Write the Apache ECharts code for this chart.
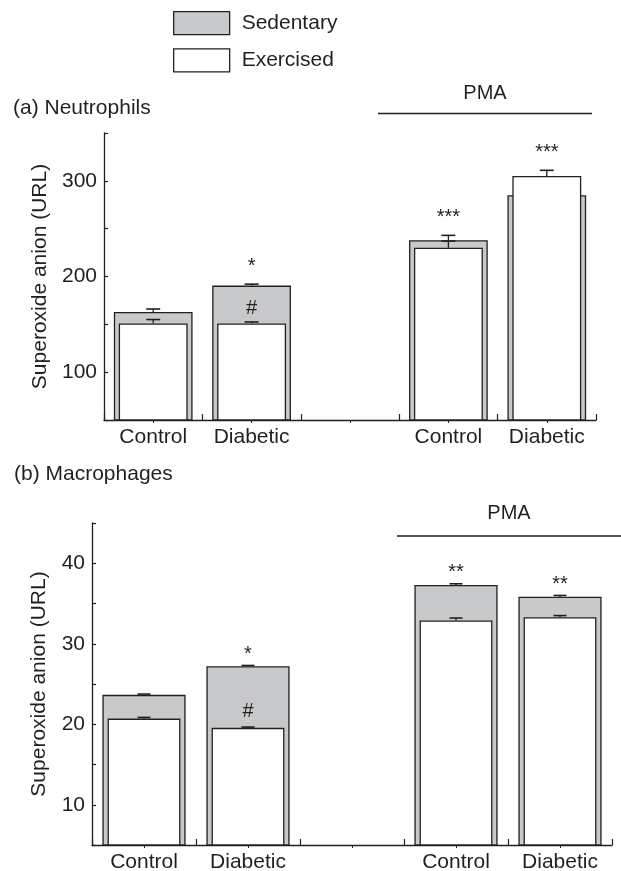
<!DOCTYPE html>
<html><head><meta charset="utf-8">
<script src="https://cdn.jsdelivr.net/npm/echarts@6/dist/echarts.min.js"></script>
<style>html,body{margin:0;padding:0;background:#fff}#c{width:621px;height:871px}</style>
</head><body><div id="c"></div><script>
// ---- data ----
const categories = ['Control', 'Diabetic', '', 'Control', 'Diabetic'];
const seriesNames = ['Sedentary', 'Exercised'];

const neutroSedentary    = [163, 190.5, null, 238, 285];
const neutroSedentaryErr = [3, 1.5, null, 5, 3];
const neutroExercised    = [151, 151, null, 230, 305];
const neutroExercisedErr = [4, 1.5, null, 7, 6];
const neutroStars = ['', '*', '', '***', '***'];
const neutroHash  = ['', '#', '', '', ''];
const neutroAxis  = [50, 350, 50, 100]; // min, max, tick interval, label step

const macroSedentary    = [23.65, 27.2, null, 37.3, 35.85];
const macroSedentaryErr = [0.1, 0.1, null, 0.15, 0.15];
const macroExercised    = [20.7, 19.55, null, 32.9, 33.3];
const macroExercisedErr = [0.15, 0.1, null, 0.3, 0.2];
const macroStars = ['', '*', '', '**', '**'];
const macroHash  = ['', '#', '', '', ''];
const macroAxis  = [5, 45, 5, 10];

const panelTitles = ['(a) Neutrophils', '(b) Macrophages'];
const yName = 'Superoxide anion (URL)';
const groupLabel = 'PMA';

// ---- style ----
const ink = '#231f20';
const grey = '#c8c9cb';
const FONT = 'Liberation Sans, Arial, Helvetica, sans-serif';
const FS = 21;

function tri(vals, errs) {
  const out = [];
  vals.forEach((v, i) => { if (v != null) out.push([i, v, errs[i]]); });
  return out;
}
function annData(texts, anchors) {
  const out = [];
  texts.forEach((t, i) => { if (t) out.push([i, anchors[i]]); });
  return out;
}
function errRender(halfCap) {
  return function (params, api) {
    const x = api.value(0), v = api.value(1), e = api.value(2);
    const p0 = api.coord([x, v]);
    const p1 = api.coord([x, v + e]);
    return {
      type: 'group',
      children: [
        { type: 'line', shape: { x1: p0[0], y1: p0[1], x2: p1[0], y2: p1[1] }, style: { stroke: ink, lineWidth: 1.3 } },
        { type: 'line', shape: { x1: p1[0] - halfCap, y1: p1[1], x2: p1[0] + halfCap, y2: p1[1] }, style: { stroke: ink, lineWidth: 1.6 } }
      ]
    };
  };
}
function textRender(texts, dy, size) {
  return function (params, api) {
    const i = api.value(0);
    const p = api.coord([i, api.value(1)]);
    return {
      type: 'text',
      style: { x: p[0], y: p[1] + dy, text: texts[i], fill: ink, font: size + 'px ' + FONT, align: 'center', verticalAlign: 'middle' }
    };
  };
}

function panel(gi, sed, sedErr, ex, exErr, stars, hash, axisDef, capHalf, starDy, hashDy) {
  const xa = gi * 2, xb = gi * 2 + 1;
  const top = sed.map((v, i) => v == null ? null : Math.max(v + (sedErr[i] || 0), ex[i] + (exErr[i] || 0)));
  return {
    xAxis: [
      {
        type: 'category', gridIndex: gi, data: categories, position: 'bottom',
        axisLine: { show: true, lineStyle: { color: ink, width: 1.3 } },
        axisTick: { show: true, inside: true, length: 6, alignWithLabel: false, lineStyle: { color: ink, width: 1.2 } },
        axisLabel: { show: true, color: ink, fontSize: FS, fontFamily: FONT, margin: 7, interval: 0 },
        splitLine: { show: false }
      },
      {
        type: 'category', gridIndex: gi, data: categories, position: 'bottom',
        axisLine: { show: false },
        axisTick: { show: true, inside: false, length: 3, alignWithLabel: true, interval: 0, lineStyle: { color: ink, width: 1 } },
        axisLabel: { show: false },
        splitLine: { show: false }
      }
    ],
    yAxis: {
      type: 'value', gridIndex: gi, min: axisDef[0], max: axisDef[1], interval: axisDef[2],
      name: yName, nameLocation: 'middle', nameRotate: 90, nameGap: gi === 0 ? 50 : 42,
      nameTextStyle: { color: ink, fontSize: FS, fontFamily: FONT },
      axisLine: { show: true, lineStyle: { color: ink, width: 1.3 } },
      axisTick: { show: true, inside: true, length: 4, lineStyle: { color: ink, width: 1.2 } },
      axisLabel: {
        color: ink, fontSize: FS, fontFamily: FONT, margin: 7,
        formatter: v => (Math.abs(v % axisDef[3]) < 1e-9 ? String(v) : '')
      },
      splitLine: { show: false }
    },
    series: [
      {
        name: seriesNames[0], type: 'bar', xAxisIndex: xa, yAxisIndex: gi, data: sed, barWidth: '80%', z: 2,
        itemStyle: { color: grey, borderColor: ink, borderWidth: 1.3 }, emphasis: { disabled: true }
      },
      {
        type: 'custom', xAxisIndex: xa, yAxisIndex: gi, data: tri(sed, sedErr), renderItem: errRender(capHalf), z: 3, silent: true
      },
      {
        name: seriesNames[1], type: 'bar', xAxisIndex: xb, yAxisIndex: gi, data: ex, barWidth: '70%', z: 4,
        itemStyle: { color: '#ffffff', borderColor: ink, borderWidth: 1.3 }, emphasis: { disabled: true }
      },
      {
        type: 'custom', xAxisIndex: xb, yAxisIndex: gi, data: tri(ex, exErr), renderItem: errRender(capHalf), z: 5, silent: true
      },
      {
        type: 'custom', xAxisIndex: xa, yAxisIndex: gi, data: annData(stars, top), renderItem: textRender(stars, starDy, 20), z: 6, silent: true
      },
      {
        type: 'custom', xAxisIndex: xa, yAxisIndex: gi, data: annData(hash, ex), renderItem: textRender(hash, hashDy, 20), z: 6, silent: true
      }
    ]
  };
}

const pA = panel(0, neutroSedentary, neutroSedentaryErr, neutroExercised, neutroExercisedErr, neutroStars, neutroHash, neutroAxis, 7, -18, -15);
const pB = panel(1, macroSedentary, macroSedentaryErr, macroExercised, macroExercisedErr, macroStars, macroHash, macroAxis, 6.5, -11, -16);

const chart = echarts.init(document.getElementById('c'), null, { renderer: 'canvas' });
chart.setOption({
  animation: false,
  backgroundColor: '#ffffff',
  textStyle: { fontFamily: FONT },
  grid: [
    { left: 104, top: 133, width: 492, height: 287, containLabel: false, outerBoundsMode: 'none' },
    { left: 92, top: 523, width: 520, height: 322, containLabel: false, outerBoundsMode: 'none' }
  ],
  legend: {
    orient: 'vertical', left: 168, top: 6, itemWidth: 56, itemHeight: 23, itemGap: 13,
    icon: 'rect', selectedMode: false,
    textStyle: { fontSize: FS, color: ink, fontFamily: FONT, padding: [0, 0, 0, 7] },
    data: [
      { name: seriesNames[0], itemStyle: { color: grey, borderColor: ink, borderWidth: 1.3 } },
      { name: seriesNames[1], itemStyle: { color: '#ffffff', borderColor: ink, borderWidth: 1.3 } }
    ]
  },
  xAxis: pA.xAxis.concat(pB.xAxis),
  yAxis: [pA.yAxis, pB.yAxis],
  series: pA.series.concat(pB.series),
  graphic: [
    { type: 'text', left: 13, top: 98, style: { text: panelTitles[0], fill: ink, font: FS + 'px ' + FONT } },
    { type: 'text', left: 14, top: 464, style: { text: panelTitles[1], fill: ink, font: FS + 'px ' + FONT } },
    { type: 'text', x: 485, y: 93, style: { text: groupLabel, fill: ink, font: '20px ' + FONT, align: 'center', verticalAlign: 'middle' } },
    { type: 'line', shape: { x1: 378, y1: 113.5, x2: 592, y2: 113.5 }, style: { stroke: ink, lineWidth: 1.3 } },
    { type: 'text', x: 509, y: 513, style: { text: groupLabel, fill: ink, font: '20px ' + FONT, align: 'center', verticalAlign: 'middle' } },
    { type: 'line', shape: { x1: 397, y1: 536, x2: 621, y2: 536 }, style: { stroke: ink, lineWidth: 1.3 } }
  ]
});
</script></body></html>
